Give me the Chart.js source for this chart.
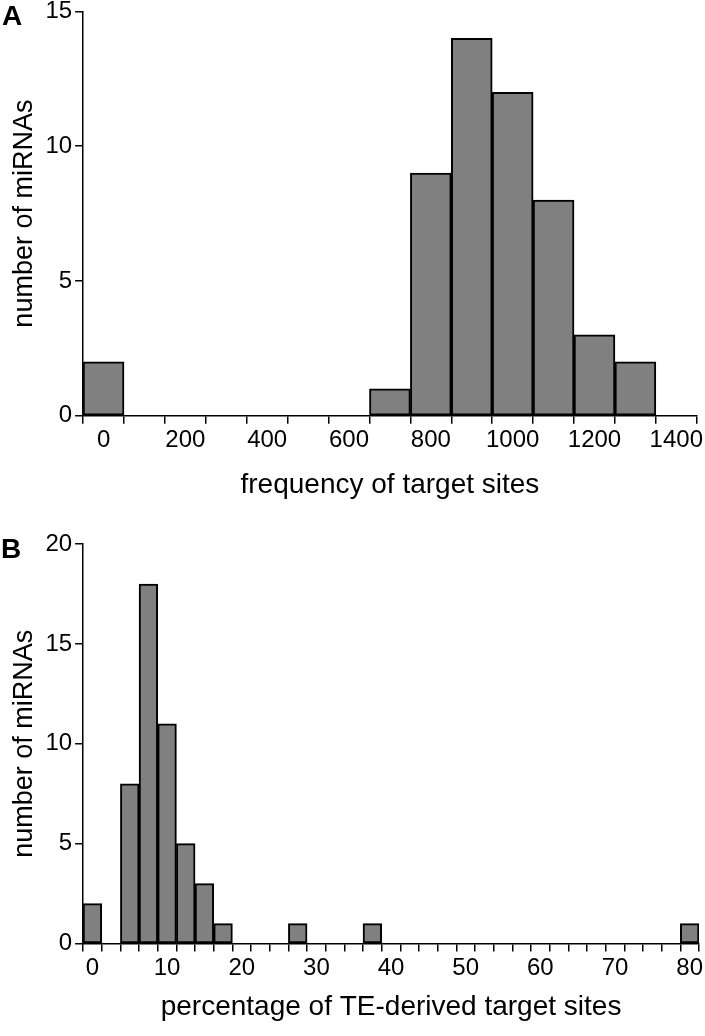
<!DOCTYPE html>
<html>
<head>
<meta charset="utf-8">
<script src="https://cdn.jsdelivr.net/npm/chart.js@4"></script>
<style>
  body { margin: 0; background: #fff; }
  .panel { position: absolute; left: 0; width: 705px; }
  .letter { position: absolute; font: bold 28px "Liberation Sans", Arial, sans-serif; color: #000; line-height: 32px; }
</style>
</head>
<body>
<div class="panel" style="top:0;height:500px"><canvas id="chartA"></canvas></div>
<div class="panel" style="top:500px;height:536px"><canvas id="chartB"></canvas></div>
<div class="letter" style="left:2px;top:0px">A</div>
<div class="letter" style="left:1px;top:533px">B</div>
<script>
// panel A: frequency of target sites (bins of 100)
const binsA = ['0','100','200','300','400','500','600','700','800','900','1000','1100','1200','1300','1400'];
const countsA = [2, 0, 0, 0, 0, 0, 0, 1, 9, 14, 12, 8, 3, 2, 0];

// panel B: percentage of TE-derived target sites (bins of 2.5)
const binsB = [0, 2.5, 5, 7.5, 10, 12.5, 15, 17.5, 20, 22.5, 25, 27.5, 30, 32.5, 35, 37.5, 40,
  42.5, 45, 47.5, 50, 52.5, 55, 57.5, 60, 62.5, 65, 67.5, 70, 72.5, 75, 77.5, 80];
const countsB = [2, 0, 8, 18, 11, 5, 3, 1, 0, 0, 0, 1, 0, 0, 0, 1, 0,
  0, 0, 0, 0, 0, 0, 0, 0, 0, 0, 0, 0, 0, 0, 0, 1];

Chart.defaults.font.family = '"Liberation Sans", Arial, sans-serif';
Chart.defaults.color = '#000';

function histograma(id, labels, data, yMax, xTitle, showLabel, pad, titulo) {
  const ctx = document.getElementById(id);
  new Chart(ctx, {
    type: 'bar',
    data: {
      labels: labels,
      datasets: [{
        data: data,
        backgroundColor: '#808080',
        borderColor: '#000',
        borderWidth: 2,
        borderSkipped: false,
        barPercentage: 1,
        categoryPercentage: 1
      }]
    },
    options: {
      responsive: true,
      maintainAspectRatio: false,
      animation: false,
      layout: { padding: pad },
      plugins: { legend: { display: false }, tooltip: { enabled: false } },
      scales: {
        x: {
          offset: true,
          grid: { offset: true, drawOnChartArea: false, color: '#000', tickLength: 8, lineWidth: 1.5 },
          border: { color: '#000', width: 1.5 },
          ticks: {
            autoSkip: false, maxRotation: 0, padding: 2,
            font: { size: 24 },
            callback: function(v, i) { return showLabel(labels[i], i) ? labels[i] : ''; }
          },
          title: { display: true, text: xTitle, font: { size: 28, lineHeight: titulo.lh }, padding: { top: titulo.top } }
        },
        y: {
          min: 0, max: yMax,
          grid: { drawOnChartArea: false, color: '#000', tickLength: 8, lineWidth: 1.5 },
          border: { color: '#000', width: 1.5 },
          ticks: { stepSize: 5, font: { size: 24, lineHeight: 0.7 }, padding: 3 },
          title: { display: true, text: 'number of miRNAs', font: { size: 27 }, padding: { bottom: 2 } }
        }
      }
    }
  });
}

histograma('chartA', binsA, countsA, 15, 'frequency of target sites',
  function(l, i) { return i % 2 === 0; }, { top: 0, right: 0, bottom: 0, left: 4 },
  { lh: 0.8, top: 17 });
histograma('chartB', binsB, countsB, 20, 'percentage of TE-derived target sites',
  function(l, i) { return l % 10 === 0; }, { top: 44, right: 0, bottom: 8, left: 4 },
  { lh: 1.2, top: 6 });
</script>
</body>
</html>
